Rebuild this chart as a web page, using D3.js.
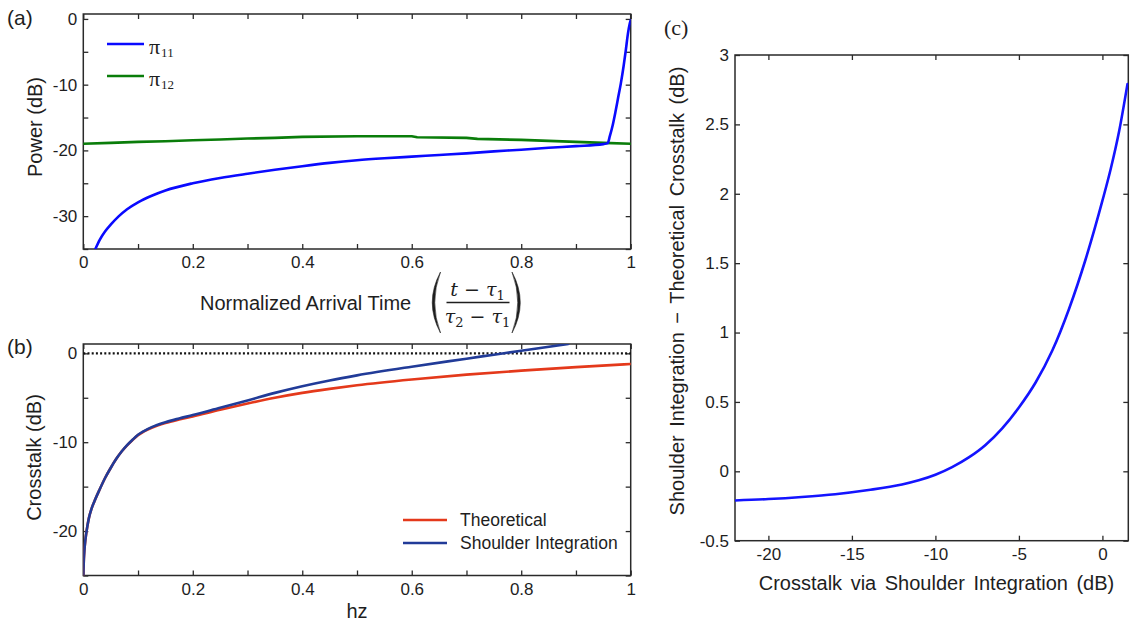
<!DOCTYPE html>
<html>
<head>
<meta charset="utf-8">
<script src="https://cdn.jsdelivr.net/npm/d3@7"></script>
<style>
  body { margin: 0; background: #fff; }
  svg { display: block; }
</style>
</head>
<body>
<svg id="fig" width="1139" height="627"></svg>
<script>
// ---------- (a) power vs normalized arrival time ----------
const arrivalTime11 = [0.022, 0.03, 0.04, 0.05, 0.065, 0.08, 0.1, 0.125, 0.15, 0.2, 0.25, 0.3, 0.35, 0.4, 0.45,
  0.5, 0.55, 0.6, 0.65, 0.7, 0.75, 0.8, 0.85, 0.9, 0.95, 0.958, 0.962, 0.967, 0.972, 0.977, 0.982, 0.987, 0.991, 0.995, 0.998, 1.0];
const power11 = [-35, -33.6, -32.3, -31.3, -30.0, -28.95, -27.9, -26.9, -26.1, -25.0, -24.2, -23.55, -22.95, -22.4, -21.9,
  -21.5, -21.2, -20.95, -20.7, -20.45, -20.15, -19.9, -19.6, -19.35, -19.05, -18.9, -17.8, -16.2, -14.2, -12.0, -9.8, -7.2, -4.8, -2.2, -0.8, -0.2];
const arrivalTime12 = [0, 0.05, 0.1, 0.15, 0.2, 0.25, 0.3, 0.35, 0.4, 0.5, 0.6, 0.61, 0.7, 0.72, 0.8, 0.85, 0.9, 0.95, 1.0];
const power12 = [-19.0, -18.85, -18.7, -18.6, -18.45, -18.35, -18.2, -18.1, -17.95, -17.85, -17.85, -18.0, -18.1, -18.25, -18.4, -18.55, -18.7, -18.85, -19.0];
const timeTicks = [0, 0.1, 0.2, 0.3, 0.4, 0.5, 0.6, 0.7, 0.8, 0.9, 1];
const timeTickLabels = [0, 0.2, 0.4, 0.6, 0.8, 1];
const powerTicks = [0, -5, -10, -15, -20, -25, -30, -35];
const powerTickLabels = [0, -10, -20, -30];

// ---------- (b) crosstalk vs hz ----------
const hzTheoretical = [0, 0.001, 0.002, 0.004, 0.006, 0.01, 0.015, 0.02, 0.03, 0.04, 0.05, 0.06, 0.07, 0.08, 0.09, 0.1, 0.11,
  0.125, 0.15, 0.175, 0.2, 0.25, 0.3, 0.35, 0.4, 0.45, 0.5, 0.6, 0.7, 0.8, 0.9, 1.0];
const crosstalkTheoretical = [-25, -23.2, -22.2, -20.9, -20.0, -18.6, -17.5, -16.7, -15.3, -14.0, -12.9, -11.9, -11.05, -10.35, -9.75, -9.2, -8.82,
  -8.38, -7.85, -7.45, -7.1, -6.35, -5.65, -5.0, -4.45, -4.0, -3.6, -2.95, -2.4, -1.95, -1.55, -1.2];
const hzShoulder = [0, 0.001, 0.002, 0.004, 0.006, 0.01, 0.015, 0.02, 0.03, 0.04, 0.05, 0.06, 0.07, 0.08, 0.09, 0.1, 0.11,
  0.125, 0.15, 0.175, 0.2, 0.25, 0.3, 0.35, 0.4, 0.45, 0.5, 0.6, 0.7, 0.75, 0.8, 0.886];
const crosstalkShoulder = [-25, -23.2, -22.2, -20.9, -20.0, -18.6, -17.5, -16.7, -15.3, -14.0, -12.9, -11.9, -11.05, -10.33, -9.72, -9.17, -8.77,
  -8.3, -7.75, -7.33, -6.95, -6.12, -5.3, -4.45, -3.7, -3.05, -2.48, -1.5, -0.6, -0.15, 0.3, 1.05];
const hzTicks = [0, 0.1, 0.2, 0.3, 0.4, 0.5, 0.6, 0.7, 0.8, 0.9, 1];
const hzTickLabels = [0, 0.2, 0.4, 0.6, 0.8, 1];
const crosstalkTicks = [0, -5, -10, -15, -20, -25];
const crosstalkTickLabels = [0, -10, -20];

// ---------- (c) difference vs crosstalk ----------
const shoulderCrosstalk = [-22, -20, -18, -16, -14, -12, -11, -10, -9, -8, -7, -6, -5, -4, -3, -2, -1, 0, 0.5, 1, 1.5];
const crosstalkDifference = [-0.21, -0.2, -0.185, -0.165, -0.135, -0.095, -0.065, -0.025, 0.03, 0.1, 0.19, 0.31, 0.46, 0.64, 0.87, 1.17, 1.53, 1.95, 2.18, 2.45, 2.79];
const cTicksX = [-20, -15, -10, -5, 0];
const cTicksY = [-0.5, 0, 0.5, 1, 1.5, 2, 2.5, 3];

const svg = d3.select("#fig");
const SANS = "'Liberation Sans', Arial, sans-serif";
const INK = "#1e1e1e";
const FRAME = "#2a2a2a";

svg.append("rect").attr("width", 1139).attr("height", 627).attr("fill", "#fff");

// Boxed axes with inward ticks on all four sides; labels only on left/bottom.
function boxAxes(id, x, y, xt, yt, xl, yl) {
  const [x0, x1] = x.range();
  const [y1, y0] = y.range();
  const g = svg.append("g");
  const has = (arr, d) => arr.some(v => Math.abs(v - d) < 1e-9);
  const fx = d => has(xl, d) ? String(d) : "";
  const fy = d => has(yl, d) ? String(d) : "";

  g.append("g").attr("transform", `translate(0,${y1})`)
    .call(d3.axisBottom(x).tickValues(xt).tickSizeInner(-5).tickSizeOuter(0).tickPadding(7).tickFormat(fx));
  g.append("g").attr("transform", `translate(0,${y0})`)
    .call(d3.axisTop(x).tickValues(xt).tickSizeInner(-5).tickSizeOuter(0).tickFormat(""));
  g.append("g").attr("transform", `translate(${x0},0)`)
    .call(d3.axisLeft(y).tickValues(yt).tickSizeInner(-5).tickSizeOuter(0).tickPadding(6).tickFormat(fy));
  g.append("g").attr("transform", `translate(${x1},0)`)
    .call(d3.axisRight(y).tickValues(yt).tickSizeInner(-5).tickSizeOuter(0).tickFormat(""));

  g.selectAll(".domain").remove();
  g.selectAll(".tick line").attr("stroke", FRAME).attr("stroke-width", 1.3);
  g.selectAll("text").attr("font-size", 17).attr("font-family", SANS).attr("fill", INK);

  g.append("rect").attr("x", x0).attr("y", y0).attr("width", x1 - x0).attr("height", y1 - y0)
    .attr("fill", "none").attr("stroke", FRAME).attr("stroke-width", 1.5);

  svg.append("clipPath").attr("id", id).append("rect")
    .attr("x", x0).attr("y", y0).attr("width", x1 - x0).attr("height", y1 - y0);
  return g;
}

function series(clip, xs, ys, x, y, color, width, curve) {
  const pts = xs.map((d, i) => [d, ys[i]]);
  svg.append("path").datum(pts)
    .attr("clip-path", `url(#${clip})`)
    .attr("d", d3.line().x(d => x(d[0])).y(d => y(d[1])).curve(curve))
    .attr("fill", "none").attr("stroke", color).attr("stroke-width", width)
    .attr("stroke-linejoin", "round").attr("stroke-linecap", "round");
}

function label(txt, x, y, opts = {}) {
  const t = svg.append("text").attr("x", x).attr("y", y)
    .attr("font-family", opts.family || SANS).attr("font-size", opts.size || 20)
    .attr("fill", INK).attr("text-anchor", opts.anchor || "middle")
    .attr("dominant-baseline", "central").text(txt);
  if (opts.rotate) t.attr("transform", `rotate(-90,${x},${y})`);
  if (opts.ws) t.attr("word-spacing", opts.ws);
  return t;
}

// ===== Panel (a) =====
const xa = d3.scaleLinear().domain([0, 1]).range([83.3, 630.7]);
const ya = d3.scaleLinear().domain([-35, 0.75]).range([249, 14]);
boxAxes("clipA", xa, ya, timeTicks, powerTicks, timeTickLabels, powerTickLabels);
series("clipA", arrivalTime12, power12, xa, ya, "#0a7d0a", 2.6, d3.curveLinear);
series("clipA", arrivalTime11, power11, xa, ya, "#0a0aff", 2.6, d3.curveMonotoneX);

// legend (a)
const legA = [{name: "11", color: "#0a0aff", y: 44}, {name: "12", color: "#0a7d0a", y: 76}];
legA.forEach(d => {
  svg.append("line").attr("x1", 107).attr("x2", 144).attr("y1", d.y).attr("y2", d.y)
    .attr("stroke", d.color).attr("stroke-width", 2.6);
  const t = svg.append("text").attr("x", 149).attr("y", d.y + 10)
    .attr("font-family", "'Liberation Serif', 'Times New Roman', serif").attr("font-size", 22).attr("fill", INK);
  t.append("tspan").text("π");
  t.append("tspan").attr("font-size", 13).attr("dy", 3).attr("dx", 1).text(d.name);
});

label("(a)", 7, 17, {anchor: "start", size: 21});
label("Power (dB)", 35, 127, {rotate: true});
label("Normalized Arrival Time", 200, 303, {anchor: "start"});

// fraction (t - τ1)/(τ2 - τ1) in parentheses
const MATH = "'DejaVu Serif', 'Liberation Serif', serif";
svg.append("path").attr("d", "M440.5,272 Q424,302.5 440.5,333 Q429,302.5 440.5,272 Z")
  .attr("fill", INK).attr("stroke", INK).attr("stroke-width", 0.6);
svg.append("path").attr("d", "M512,272 Q528.5,302.5 512,333 Q523.5,302.5 512,272 Z")
  .attr("fill", INK).attr("stroke", INK).attr("stroke-width", 0.6);
svg.append("line").attr("x1", 446.5).attr("x2", 509.5).attr("y1", 302.5).attr("y2", 302.5)
  .attr("stroke", INK).attr("stroke-width", 1.3);
function fracRow(cx, baseY, parts) {
  const t = svg.append("text").attr("x", cx).attr("y", baseY).attr("text-anchor", "middle")
    .attr("font-family", MATH).attr("font-size", 19).attr("fill", INK);
  parts.forEach(p => {
    const s = t.append("tspan").text(p.t);
    if (p.it) s.attr("font-style", "italic");
    if (p.sub) s.attr("font-size", 13).attr("dy", 4);
    if (p.up) s.attr("dy", -4);
  });
}
fracRow(477.5, 296, [{t: "t", it: true}, {t: " − "}, {t: "τ", it: true}, {t: "1", sub: true}]);
fracRow(477.5, 323, [{t: "τ", it: true}, {t: "2", sub: true}, {t: " − ", up: true}, {t: "τ", it: true}, {t: "1", sub: true}]);

// ===== Panel (b) =====
const xb = d3.scaleLinear().domain([0, 1]).range([83.3, 630.7]);
const yb = d3.scaleLinear().domain([-25, 1.05]).range([575.5, 344]);
boxAxes("clipB", xb, yb, hzTicks, crosstalkTicks, hzTickLabels, crosstalkTickLabels);
svg.append("line").attr("x1", xb(0)).attr("x2", xb(1)).attr("y1", yb(0)).attr("y2", yb(0))
  .attr("stroke", "#111").attr("stroke-width", 2.2).attr("stroke-dasharray", "2,2.2");
series("clipB", hzTheoretical, crosstalkTheoretical, xb, yb, "#e4391b", 2.6, d3.curveMonotoneX);
series("clipB", hzShoulder, crosstalkShoulder, xb, yb, "#213b98", 2.6, d3.curveMonotoneX);

const legB = [{name: "Theoretical", color: "#e4391b", y: 520}, {name: "Shoulder Integration", color: "#213b98", y: 543}];
legB.forEach(d => {
  svg.append("line").attr("x1", 403).attr("x2", 447).attr("y1", d.y).attr("y2", d.y)
    .attr("stroke", d.color).attr("stroke-width", 2.6);
  label(d.name, 460, d.y, {anchor: "start", size: 17.5});
});

label("(b)", 7, 346, {anchor: "start", size: 21});
label("Crosstalk (dB)", 33.5, 457.5, {rotate: true});
label("hz", 357, 611, {});

// ===== Panel (c) =====
const xc = d3.scaleLinear().domain([-22, 1.55]).range([735, 1128.3]);
const yc = d3.scaleLinear().domain([-0.5, 3]).range([540.7, 55]);
boxAxes("clipC", xc, yc, cTicksX, cTicksY, cTicksX, cTicksY);
series("clipC", shoulderCrosstalk, crosstalkDifference, xc, yc, "#1414ff", 2.6, d3.curveMonotoneX);

label("(c)", 664, 27, {anchor: "start", size: 22, family: "'Liberation Serif', 'Times New Roman', serif"});
label("Shoulder Integration − Theoretical Crosstalk (dB)", 676.5, 291, {rotate: true, ws: 3});
label("Crosstalk via Shoulder Integration (dB)", 936.5, 582.5, {ws: 3});
</script>
</body>
</html>
